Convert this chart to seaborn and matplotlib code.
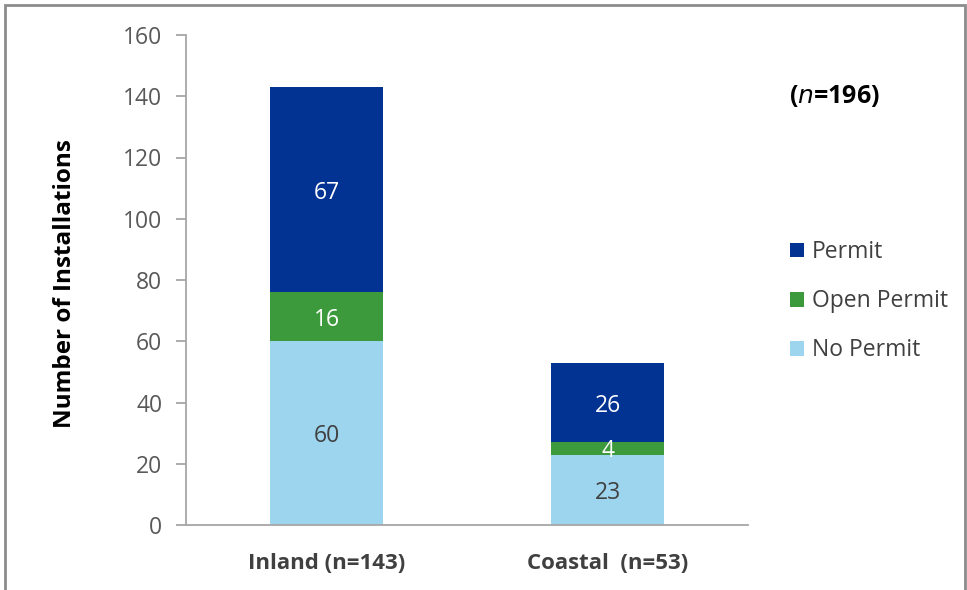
import matplotlib
matplotlib.use("Agg")
import matplotlib.pyplot as plt
from matplotlib.patches import Patch, Rectangle
import seaborn as sns
import pandas as pd

# Installations by location and permit status
categories = ["Inland (n=143)", "Coastal  (n=53)"]
no_permit = [60, 23]
open_permit = [16, 4]
permit = [67, 26]
series_names = ["Permit", "Open Permit", "No Permit"]

colors = {"Permit": "#023393", "Open Permit": "#3C9A3C", "No Permit": "#9DD5EF"}
text_colors = {"Permit": "white", "Open Permit": "white", "No Permit": "#404040"}

sns.set_theme(style="white")
plt.rcParams["font.family"] = ["Open Sans", "DejaVu Sans"]

fig = plt.figure(figsize=(9.67, 5.90), dpi=100)
ax = fig.add_axes([186 / 967, 1 - 525 / 590, (748 - 186) / 967, (525 - 35) / 590])

# cumulative tops, drawn back to front so each layer covers the one beneath
cum_np = no_permit
cum_op = [a + b for a, b in zip(no_permit, open_permit)]
cum_p = [a + b for a, b in zip(cum_op, permit)]
layers = [("Permit", cum_p, permit, cum_op),
          ("Open Permit", cum_op, open_permit, cum_np),
          ("No Permit", cum_np, no_permit, [0, 0])]

for name, tops, vals, bases in layers:
    df = pd.DataFrame({"cat": categories, "val": tops})
    sns.barplot(data=df, x="cat", y="val", color=colors[name], width=0.4,
                saturation=1, ax=ax, errorbar=None, edgecolor="none")
    for i, (v, b) in enumerate(zip(vals, bases)):
        ax.text(i, b + v / 2, f"{v}", ha="center", va="center_baseline",
                fontsize=16.5, color=text_colors[name])

ax.set_xlim(-0.5, 1.5)
ax.set_ylim(0, 160)
ax.set_yticks(range(0, 161, 20))
ax.set_xlabel("")
ax.set_ylabel("")
for s in ["top", "right"]:
    ax.spines[s].set_visible(False)
for s in ["left", "bottom"]:
    ax.spines[s].set_color("#A6A6A6")
    ax.spines[s].set_linewidth(1.3)
ax.tick_params(axis="y", which="both", left=True, length=7, width=1.3,
               color="#A6A6A6", labelsize=16.5, labelcolor="#595959", pad=10)
ax.tick_params(axis="x", bottom=False, labelsize=16, labelcolor="#404040", pad=14)
for lbl in ax.get_xticklabels():
    lbl.set_fontweight("bold")

fig.text(65 / 967, 1 - 284 / 590, "Number of Installations", rotation=90,
         ha="center", va="center", fontsize=17.5, fontweight="bold", color="black")

fig.text(789 / 967, 1 - 96 / 590, r"($\mathit{n}$=196)", ha="left", va="center",
         fontsize=18, fontweight="bold", color="black")

handles = [Patch(facecolor=colors[n], edgecolor="none") for n in series_names]
fig.legend(handles, series_names, loc="upper left",
           bbox_to_anchor=(790 / 967, 1 - 240 / 590), frameon=False,
           fontsize=16.5, labelcolor="#404040", handlelength=0.62, handleheight=0.62,
           handletextpad=0.35, labelspacing=1.1, borderaxespad=0, borderpad=0)

# outer frame around the figure
fig.patches.append(Rectangle((5 / 967, -0.02), (965 - 5) / 967, 1 - 5 / 590 + 0.02,
                             transform=fig.transFigure, fill=False,
                             edgecolor="#8C8C8C", linewidth=2))

fig.savefig("out.png", dpi=100)
